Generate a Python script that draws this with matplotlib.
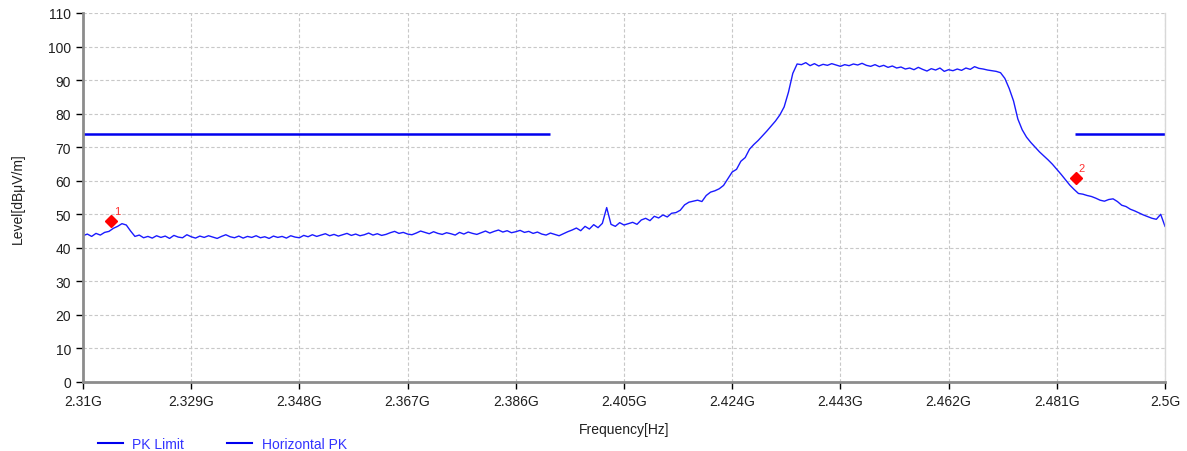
import numpy as np
import matplotlib
matplotlib.use("Agg")
import matplotlib.pyplot as plt
from matplotlib.lines import Line2D

plt.rcParams['font.family'] = ['Liberation Sans', 'DejaVu Sans']

# Sweep settings (GHz)
sweep_start = 2.31
sweep_stop = 2.5
sweep_points = 251

# Horizontal PK trace level (dBuV/m)
trace_level = [
    43.6, 44.1, 43.4, 44.3, 43.8, 44.6, 44.9, 45.8, 46.4, 47.2,
    46.8, 45.0, 43.4, 43.8, 43.0, 43.4, 42.9, 43.6, 43.1, 43.5,
    42.8, 43.7, 43.2, 43.0, 43.9, 43.3, 42.9, 43.5, 43.1, 43.6,
    43.2, 42.8, 43.4, 43.9, 43.3, 43.0, 43.5, 42.9, 43.4, 43.1,
    43.6, 43.0, 43.3, 42.8, 43.5, 43.1, 43.4, 42.9, 43.6, 43.2,
    43.0, 43.7, 43.3, 43.9, 43.4, 43.8, 44.2, 43.6, 44.0, 43.5,
    43.9, 44.3, 43.7, 44.1, 43.6, 43.9, 44.4, 43.8, 44.2, 43.7,
    44.0, 44.5, 44.9, 44.3, 44.6, 44.1, 43.9, 44.4, 45.0, 44.6,
    44.2, 44.8, 44.3, 44.0, 44.5, 44.2, 43.8, 44.6, 44.1, 44.7,
    44.3, 44.0, 44.5, 45.0, 44.4, 44.9, 45.3, 44.7, 45.1, 44.5,
    44.8, 45.2, 44.6, 44.9, 44.3, 44.7, 44.1, 43.8, 44.4, 44.0,
    43.6, 44.2, 44.8, 45.3, 45.9, 45.1, 46.4, 45.6, 46.9, 46.0,
    47.3, 52.0, 47.0, 46.4, 47.5, 46.8, 47.2, 47.6, 47.0, 48.3,
    48.8, 48.1, 49.4, 48.9, 49.8, 49.2, 50.3, 50.5, 51.2, 52.8,
    53.6, 53.9, 54.2, 53.8, 55.6, 56.6, 57.0, 57.6, 58.6, 60.6,
    62.6, 63.4, 65.8, 66.9, 69.4, 70.8, 72.0, 73.4, 74.8, 76.3,
    77.8, 79.6, 82.0, 86.4, 92.0, 94.8, 94.6, 95.2, 94.3, 94.9,
    94.2, 94.7, 94.4, 94.9, 94.5, 94.1, 94.6, 94.3, 94.8, 94.5,
    95.0, 94.4, 94.1, 94.6, 94.0, 94.4, 93.8, 94.2, 93.6, 93.9,
    93.3, 93.6, 93.1, 93.8, 93.2, 92.7, 93.4, 93.0, 93.6, 92.6,
    93.1, 92.8, 93.3, 92.9, 93.6, 93.2, 94.0, 93.5, 93.3, 93.0,
    92.8, 92.6, 92.2, 90.5, 87.5, 83.8, 78.4, 75.2, 73.0, 71.4,
    70.0, 68.6, 67.4, 66.2, 64.9, 63.4, 61.9, 60.3, 58.7, 57.4,
    56.2, 56.0, 55.6, 55.3, 54.8, 54.2, 53.9, 54.4, 54.6, 53.8,
    52.7, 52.3, 51.5, 51.0, 50.4, 49.8, 49.3, 48.8, 48.5, 50.0,
    46.4,
]

# PK Limit segments (GHz, dBuV/m)
limit_low_freq = [2.31, 2.392]
limit_high_freq = [2.4842, 2.5]
limit_level = [74.0, 74.0]

# Markers
marker_freq = [2.3149, 2.4843]
marker_level = [48.0, 60.8]
marker_label = ["1", "2"]

x_ticks = [2.31, 2.329, 2.348, 2.367, 2.386, 2.405, 2.424, 2.443, 2.462, 2.481, 2.5]
x_tick_labels = ["2.31G", "2.329G", "2.348G", "2.367G", "2.386G", "2.405G",
                 "2.424G", "2.443G", "2.462G", "2.481G", "2.5G"]
y_ticks = list(range(0, 111, 10))

freq = np.linspace(sweep_start, sweep_stop, sweep_points)

fig = plt.figure(figsize=(11.87, 4.52), dpi=100)
ax = fig.add_axes([83/1187, 1-383/452, (1165-83)/1187, (383-14)/452])

ax.plot(freq, trace_level, color='#1a1aff', lw=1.0)
ax.plot(limit_low_freq, limit_level, color='#0000ee', lw=1.8, solid_capstyle='butt')
ax.plot(limit_high_freq, limit_level, color='#0000ee', lw=1.8, solid_capstyle='butt')

for f, l, t in zip(marker_freq, marker_level, marker_label):
    ax.plot([f], [l], marker='D', color='red', ms=6.5, mec='red', zorder=5)
    ax.annotate(t, (f, l), xytext=(2, 5), textcoords='offset points',
                color='#ff3030', fontsize=8)

ax.set_xlim(sweep_start, sweep_stop)
ax.set_ylim(0, 110)
ax.set_xticks(x_ticks)
ax.set_xticklabels(x_tick_labels)
ax.set_yticks(y_ticks)
ax.tick_params(axis='both', labelsize=10, colors='black', labelcolor='#202020',
               length=5, width=1, direction='out')
ax.tick_params(axis='x', pad=4)
ax.grid(True, color='#c8c8c8', linestyle=(0, (3, 2)), lw=0.8)
ax.set_axisbelow(True)

for s in ['left', 'bottom']:
    ax.spines[s].set_color('#8c8c8c')
    ax.spines[s].set_linewidth(2)
ax.spines['top'].set_visible(False)
ax.spines['right'].set_color('#d8d8d8')
ax.spines['right'].set_linewidth(1)

ax.set_xlabel('Frequency[Hz]', fontsize=10, labelpad=10, color='#202020')
ax.set_ylabel('Level[dBμV/m]', fontsize=10, labelpad=17, color='#202020')

handles = [Line2D([], [], color='#0000ee', lw=1.5), Line2D([], [], color='#0000ee', lw=1.5)]
leg = fig.legend(handles, ['PK Limit', 'Horizontal PK'], loc='center left',
                 bbox_to_anchor=(85/1187, 1-445/452), ncol=2, frameon=False,
                 fontsize=10, handlelength=1.8, handletextpad=0.7, columnspacing=3.1)
for t in leg.get_texts():
    t.set_color('#3333ff')

fig.savefig('out.png', dpi=100)
